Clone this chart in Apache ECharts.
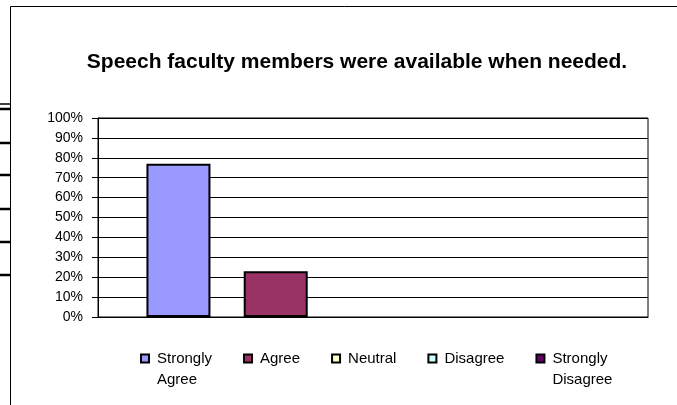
<!DOCTYPE html>
<html>
<head>
<meta charset="utf-8">
<script src="https://cdn.jsdelivr.net/npm/echarts@6/dist/echarts.min.js"></script>
<style>
  html, body { margin: 0; padding: 0; background: #fff; }
  #chart { width: 677px; height: 405px; }
</style>
</head>
<body>
<div id="chart"></div>
<script>
// survey answers, one bar per answer
const responses = ["Strongly Agree", "Agree", "Neutral", "Disagree", "Strongly Disagree"];
const shares = [77, 23, 0, 0, 0];
const colors = ["#9999ff", "#993366", "#ffffcc", "#ccffff", "#660066"];
const question = ["Speech faculty members were available when needed."];

const FONT = "Liberation Sans, Arial, sans-serif";

const myChart = echarts.init(document.getElementById("chart"));

// stray lines at the left edge of the scan
const stubs = [104, 109, 143, 175, 209, 242, 275].map((y, i) => ({
  type: "line",
  shape: { x1: 0, y1: y, x2: 10, y2: y },
  style: { stroke: "#000", lineWidth: i === 0 ? 1.5 : 2.5 },
}));

// legend text: a blank line first so the first real line sits next to the icon
function legendText(name) {
  const parts = name.split(" ");
  const first = parts[0];
  const second = parts.length > 1 ? parts.slice(1).join(" ") : " ";
  return " \n" + first + "\n" + second;
}

const option = {
  animation: false,
  textStyle: { fontFamily: FONT, color: "#000" },
  title: {
    text: question[0],
    left: 357,
    top: 52,
    textAlign: "center",
    padding: 0,
    textStyle: { fontFamily: FONT, fontSize: 21, fontWeight: "bold", color: "#000" },
  },
  graphic: [
    {
      type: "rect",
      shape: { x: 10.5, y: 6.5, width: 720, height: 500 },
      style: { fill: "none", stroke: "#000", lineWidth: 1 },
    },
    ...stubs,
  ],
  grid: {
    left: 98,
    right: 29,
    top: 118,
    bottom: 88,
    show: true,
    borderColor: "#000",
    borderWidth: 1,
  },
  legend: {
    data: responses,
    left: 140,
    top: 327,
    padding: 0,
    itemWidth: 8,
    itemHeight: 8,
    itemGap: 31,
    icon: "rect",
    formatter: legendText,
    textStyle: {
      fontFamily: FONT,
      fontSize: 15,
      lineHeight: 21,
      color: "#000",
      padding: [0, 0, 0, 3],
    },
  },
  xAxis: {
    type: "category",
    data: [""],
    axisLine: { show: true, lineStyle: { color: "#000", width: 1 } },
    axisTick: { show: false },
    axisLabel: { show: false },
  },
  yAxis: {
    type: "value",
    min: 0,
    max: 100,
    interval: 10,
    axisLine: { show: true, lineStyle: { color: "#000", width: 1 } },
    axisTick: { show: true, length: 6, lineStyle: { color: "#000" } },
    axisLabel: {
      margin: 15,
      fontSize: 14,
      fontFamily: FONT,
      color: "#000",
      formatter: "{value}%",
    },
    splitLine: { show: true, lineStyle: { color: "#000", width: 1 } },
  },
  series: responses.map((name, i) => ({
    name: name,
    type: "bar",
    data: [
      shares[i] > 0
        ? shares[i]
        : { value: shares[i], itemStyle: { borderWidth: 0 } },
    ],
    barWidth: 64,
    barGap: "52%",
    itemStyle: { color: colors[i], borderColor: "#000", borderWidth: 2 },
  })),
};

myChart.setOption(option);
</script>
</body>
</html>
